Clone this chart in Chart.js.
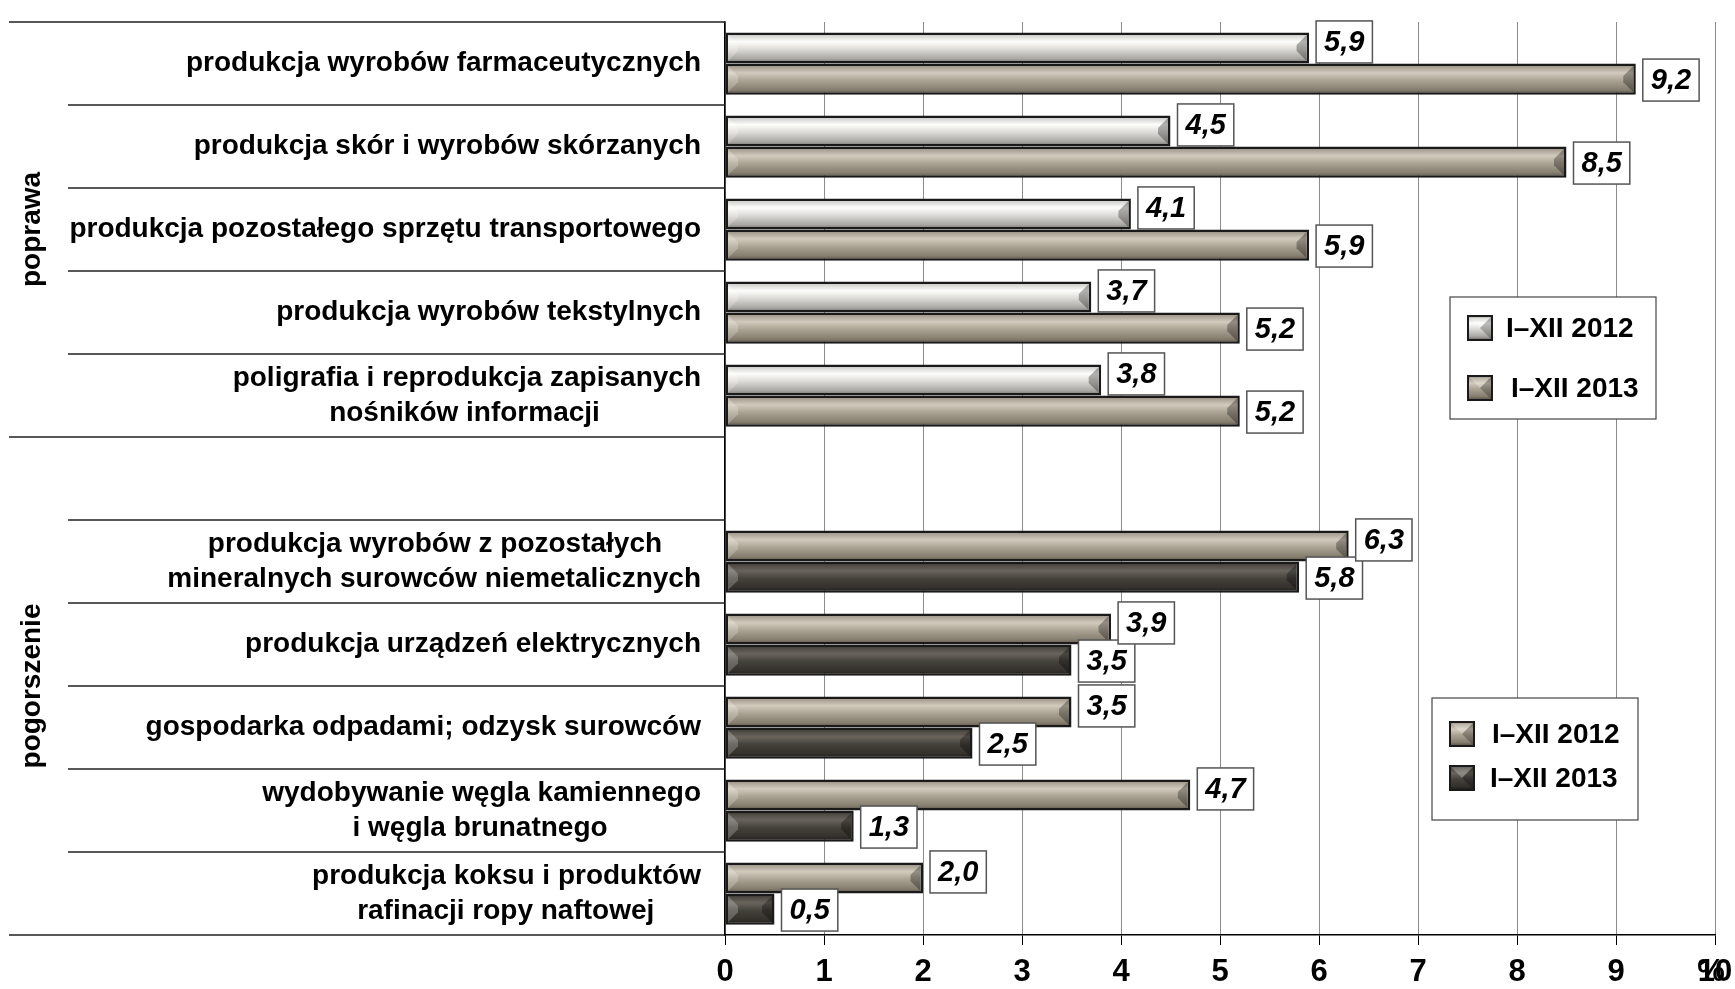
<!DOCTYPE html>
<html>
<head>
<meta charset="utf-8">
<script src="https://cdn.jsdelivr.net/npm/chart.js@4"></script>
<style>
html, body { margin: 0; background: #fff; }
#wrap { width: 1735px; height: 989px; position: relative; }
</style>
</head>
<body>
<div id="wrap"><canvas id="myChart"></canvas></div>
<script>
// data
var categories = [
    ['produkcja wyrobów farmaceutycznych'],
    ['produkcja skór i wyrobów skórzanych'],
    ['produkcja pozostałego sprzętu transportowego'],
    ['produkcja wyrobów tekstylnych'],
    ['poligrafia i reprodukcja zapisanych', 'nośników informacji'],
    [''],
    ['produkcja wyrobów z pozostałych', 'mineralnych surowców niemetalicznych'],
    ['produkcja urządzeń elektrycznych'],
    ['gospodarka odpadami; odzysk surowców'],
    ['wydobywanie węgla kamiennego', 'i węgla brunatnego'],
    ['produkcja koksu i produktów', 'rafinacji ropy naftowej']
];
var groups = ['poprawa', 'pogorszenie'];
var groupSize = 5;
var series = ['I–XII 2012', 'I–XII 2013'];
var v2012 = [5.9, 4.5, 4.1, 3.7, 3.8, null, 6.3, 3.9, 3.5, 4.7, 2.0];
var v2013 = [9.2, 8.5, 5.9, 5.2, 5.2, null, 5.8, 3.5, 2.5, 1.3, 0.5];
var xMin = 0, xMax = 10;
var unit = '%';

var F = "'Liberation Sans', Arial, sans-serif";
Chart.defaults.font.family = F;
Chart.defaults.color = '#000';

// bevel palettes (top -> bottom)
var light = [[0, '#7c7c7a'], [0.1, '#d2d2d0'], [0.3, '#fdfdfb'], [0.55, '#dcdad6'], [0.85, '#a9a7a3'], [1, '#6a6865']];
var taupe = [[0, '#655d50'], [0.1, '#a69e90'], [0.3, '#d2cabc'], [0.55, '#aaa292'], [0.85, '#857d6e'], [1, '#554d42']];
var dark = [[0, '#24221f'], [0.12, '#4e4a44'], [0.3, '#69655d'], [0.55, '#45413b'], [0.85, '#33302b'], [1, '#1b1a17']];

function pal(ds, i)
{
    if (i < groupSize) return ds == 0 ? light : taupe;
    return ds == 0 ? taupe : dark;
}

function fillGrad(ctx, p, y0, y1)
{
    var g = ctx.createLinearGradient(0, y0, 0, y1);
    p.forEach(function (s) { g.addColorStop(s[0], s[1]); });
    return g;
}

function barFill(c)
{
    var chart = c.chart, ys = chart.scales.y;
    if (c.dataIndex === undefined) return '#aaa';
    var p = pal(c.datasetIndex, c.dataIndex);
    if (!chart.chartArea || !ys) return p[3][1];
    var band = ys.getPixelForValue(1) - ys.getPixelForValue(0);
    var pair = band * 0.75, h = pair / 2;
    var top = ys.getPixelForValue(c.dataIndex) - pair / 2 + c.datasetIndex * h;
    return fillGrad(chart.ctx, p, top, top + h);
}

// center the lines of two-line labels inside their right-aligned block
var mctx = document.createElement('canvas').getContext('2d');
mctx.font = 'bold 28px ' + F;
var spaceW = mctx.measureText(' ').width;
var labels = categories.map(function (lines) {
    var w = lines.map(function (l) { return mctx.measureText(l).width; });
    var mx = Math.max.apply(null, w);
    return lines.map(function (l, i) {
        return l + ' '.repeat(Math.round((mx - w[i]) / 2 / spaceW));
    });
});

var decor = {
    id: 'decor',
    afterDatasetsDraw: function (chart)
    {
        var ctx = chart.ctx;
        ctx.save();
        // bevel ends
        [0, 1].forEach(function (d) {
            chart.getDatasetMeta(d).data.forEach(function (el) {
                var p = el.getProps(['x', 'y', 'base', 'height'], true);
                if (!isFinite(p.x) || !isFinite(p.y)) return;
                var bw = 2.5;
                var l = p.base + bw, r = p.x - bw, t = p.y - p.height / 2 + bw, b = p.y + p.height / 2 - bw;
                var e = Math.min(10, (b - t) / 2 - 2, (r - l) / 3);
                if (e <= 0) return;
                ctx.fillStyle = 'rgba(0,0,0,0.3)';
                ctx.beginPath();
                ctx.moveTo(r, t); ctx.lineTo(r, b); ctx.lineTo(r - e, b - e); ctx.lineTo(r - e, t + e);
                ctx.closePath(); ctx.fill();
                ctx.fillStyle = 'rgba(255,255,255,0.22)';
                ctx.beginPath();
                ctx.moveTo(l, t); ctx.lineTo(l, b); ctx.lineTo(l + e, b - e); ctx.lineTo(l + e, t + e);
                ctx.closePath(); ctx.fill();
            });
        });
        // value boxes
        ctx.font = 'italic bold 29px ' + F;
        ctx.textAlign = 'center';
        ctx.textBaseline = 'middle';
        [1, 0].forEach(function (d) {
            chart.getDatasetMeta(d).data.forEach(function (el, i) {
                var v = chart.data.datasets[d].data[i];
                if (v === null || v === undefined) return;
                var p = el.getProps(['x', 'y'], true);
                var txt = v.toFixed(1).replace('.', ',');
                var w = ctx.measureText(txt).width + 16, h = 42;
                var bx = p.x + 7, by = p.y + (d == 0 ? -6 : 1) - h / 2;
                ctx.fillStyle = '#fff';
                ctx.fillRect(bx, by, w, h);
                ctx.strokeStyle = '#555';
                ctx.lineWidth = 1.5;
                ctx.strokeRect(bx, by, w, h);
                ctx.fillStyle = '#000';
                ctx.fillText(txt, bx + w / 2, by + h / 2 + 1);
            });
        });
        ctx.restore();
    },
    afterDraw: function (chart)
    {
        var ctx = chart.ctx, ys = chart.scales.y, xs = chart.scales.x;
        var n = categories.length;
        var band = ys.getPixelForValue(1) - ys.getPixelForValue(0);
        var bound = function (i) { return ys.getPixelForValue(i) - band / 2; };
        ctx.save();
        // category separators
        ctx.strokeStyle = '#222';
        ctx.lineWidth = 1.5;
        ctx.beginPath();
        for (var i = 0; i <= n; i++)
        {
            var full = (i == 0 || i == groupSize || i == n);
            ctx.moveTo(full ? 9 : 68, bound(i));
            ctx.lineTo(ys.right, bound(i));
        }
        ctx.stroke();
        // group labels
        ctx.fillStyle = '#000';
        ctx.font = 'bold 28px ' + F;
        ctx.textAlign = 'center';
        ctx.textBaseline = 'middle';
        var centers = [(bound(0) + bound(groupSize)) / 2, (bound(groupSize) + bound(n)) / 2];
        groups.forEach(function (g, k) {
            ctx.save();
            ctx.translate(32, centers[k]);
            ctx.rotate(-Math.PI / 2);
            ctx.fillText(g, 0, 0);
            ctx.restore();
        });
        // unit over the last tick
        ctx.font = 'bold 31px ' + F;
        ctx.fillText(unit, xs.getPixelForValue(xMax) - 4, xs.top + 10 + 9 + 31 * 1.2 / 2);
        // legends
        var legends = [
            {box: [1450, 297, 206, 122], items: [[1468, 316, 1506], [1468, 376, 1511]], pals: [light, taupe]},
            {box: [1432, 698, 206, 122], items: [[1450, 722, 1492], [1450, 766, 1490]], pals: [taupe, dark]}
        ];
        legends.forEach(function (lg) {
            ctx.fillStyle = '#fff';
            ctx.fillRect(lg.box[0], lg.box[1], lg.box[2], lg.box[3]);
            ctx.strokeStyle = '#444';
            ctx.lineWidth = 1.2;
            ctx.strokeRect(lg.box[0], lg.box[1], lg.box[2], lg.box[3]);
            lg.items.forEach(function (it, k) {
                var s = 24, x = it[0], y = it[1];
                ctx.fillStyle = fillGrad(ctx, lg.pals[k], y, y + s);
                ctx.fillRect(x, y, s, s);
                ctx.fillStyle = 'rgba(255,255,255,0.25)';
                ctx.beginPath(); ctx.moveTo(x, y); ctx.lineTo(x + s, y); ctx.lineTo(x + s / 2, y + s / 2); ctx.closePath(); ctx.fill();
                ctx.fillStyle = 'rgba(0,0,0,0.25)';
                ctx.beginPath(); ctx.moveTo(x + s, y); ctx.lineTo(x + s, y + s); ctx.lineTo(x + s / 2, y + s / 2); ctx.closePath(); ctx.fill();
                ctx.strokeStyle = '#1a1a1a';
                ctx.lineWidth = 2;
                ctx.strokeRect(x, y, s, s);
                ctx.fillStyle = '#000';
                ctx.font = 'bold 28px ' + F;
                ctx.textAlign = 'left';
                ctx.textBaseline = 'middle';
                ctx.fillText(series[k], it[2], y + s / 2 + 1);
            });
        });
        ctx.restore();
    }
};

var ctx = document.getElementById('myChart');
var myChart = new Chart(ctx, {
    type: 'bar',
    data: {
        labels: labels,
        datasets: [
            {label: series[0], data: v2012, backgroundColor: barFill, borderColor: '#1a1a1a', borderWidth: 2.5, borderSkipped: false},
            {label: series[1], data: v2013, backgroundColor: barFill, borderColor: '#1a1a1a', borderWidth: 2.5, borderSkipped: false}
        ]
    },
    options: {
        responsive: true,
        maintainAspectRatio: false,
        animation: false,
        indexAxis: 'y',
        layout: {padding: {top: 22, right: 20, left: 0, bottom: 0}},
        datasets: {bar: {categoryPercentage: 0.75, barPercentage: 1}},
        plugins: {legend: {display: false}, tooltip: {enabled: false}},
        scales: {
            x: {
                min: xMin, max: xMax,
                afterFit: function (s) { s.height = 54; s.paddingLeft = 0; s.paddingRight = 0; },
                ticks: {stepSize: 1, color: '#000', font: {size: 31, weight: 'bold'}, padding: 9, maxRotation: 0},
                grid: {color: '#8c8c8c', lineWidth: 1, tickColor: '#000', tickLength: 10},
                border: {color: '#000', width: 1.5}
            },
            y: {
                afterFit: function (s) { s.width = 725; s.paddingTop = 0; s.paddingBottom = 0; },
                ticks: {color: '#000', font: {size: 28, weight: 'bold', lineHeight: 1.25}, padding: 24, autoSkip: false},
                grid: {display: false, drawTicks: false},
                border: {display: true, color: '#000', width: 1.5}
            }
        }
    },
    plugins: [decor]
});
</script>
</body>
</html>
